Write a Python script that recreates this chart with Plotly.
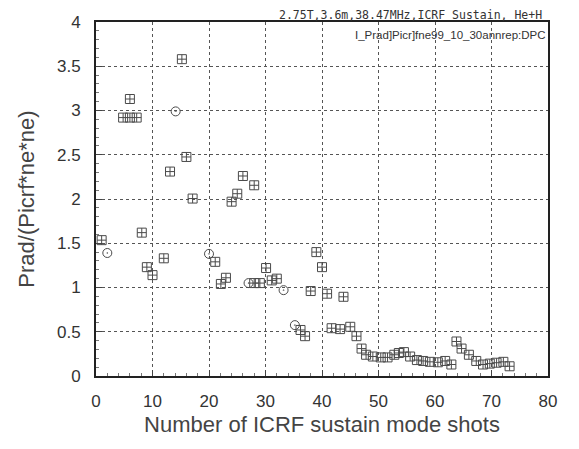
import plotly.graph_objects as go

# shot index and Prad/(Picrf*ne*ne) values, square markers
sq_x = [1.0, 4.8, 6.0, 7.2, 6.0, 8.1, 9.0, 10.0, 12.0, 13.1, 15.2, 16.0, 17.1,
        21.1, 22.1, 23.0, 24.0, 25.0, 26.0, 28.0, 28.0, 29.0, 30.1, 31.1, 32.0,
        36.2, 37.0, 38.0, 39.0, 40.0, 40.9, 41.7, 43.2, 43.8, 45.0, 46.1,
        47.0, 47.8, 49.0, 50.4, 51.6, 52.8, 53.6, 54.5, 55.6, 56.8, 57.9, 59.1,
        60.5, 61.8, 62.9, 63.8, 64.7, 66.0, 67.3, 68.5, 69.7, 70.9, 72.1, 73.2]
sq_y = [1.535, 2.92, 2.92, 2.92, 3.13, 1.62, 1.23, 1.14, 1.33, 2.31, 3.58, 2.475, 2.005,
        1.29, 1.04, 1.11, 1.97, 2.06, 2.26, 2.155, 1.05, 1.05, 1.22, 1.08, 1.10,
        0.52, 0.45, 0.96, 1.40, 1.23, 0.93, 0.54, 0.53, 0.895, 0.556, 0.45,
        0.31, 0.24, 0.22, 0.21, 0.21, 0.24, 0.26, 0.27, 0.22, 0.18, 0.17, 0.16,
        0.155, 0.17, 0.13, 0.39, 0.31, 0.24, 0.17, 0.13, 0.14, 0.15, 0.16, 0.11]
# circle markers
ci_x = [2.0, 14.1, 20.0, 27.0, 33.2, 35.2]
ci_y = [1.39, 2.99, 1.38, 1.05, 0.97, 0.575]

x_range = [0, 80]
x_step = 10
y_range = [0, 4]
y_step = 0.5

mc = "#4a4a4a"
fig = go.Figure()
fig.add_trace(go.Scatter(x=sq_x, y=sq_y, mode="markers",
                         marker=dict(symbol="square-cross-open", size=9, color=mc,
                                     line=dict(width=1, color=mc))))
fig.add_trace(go.Scatter(x=ci_x, y=ci_y, mode="markers",
                         marker=dict(symbol="circle-dot", size=9, color="rgba(0,0,0,0)",
                                     line=dict(width=1, color=mc))))

tickfont = dict(family="Liberation Sans, Arial", size=17, color="#333")
titlefont = dict(family="Liberation Sans, Arial", size=22, color="#444")

fig.update_layout(
    width=571, height=441,
    margin=dict(l=88, r=31, t=14, b=73),
    paper_bgcolor="white", plot_bgcolor="white",
    showlegend=False,
    xaxis=dict(range=x_range, tickmode="linear", tick0=0, dtick=x_step,
               showline=True, mirror=True, linecolor="#222", linewidth=2,
               showgrid=True, gridcolor="#555", griddash="dot", gridwidth=1,
               ticks="inside", ticklen=6, tickcolor="#444", automargin=False,
               minor=dict(dtick=2, ticks="inside", ticklen=3, tickcolor="#777"),
               tickfont=tickfont, ticklabelstandoff=9, zeroline=False,
               title=dict(text="Number of ICRF sustain mode shots", font=titlefont, standoff=6)),
    yaxis=dict(range=y_range, tickmode="linear", tick0=0, dtick=y_step,
               showline=True, mirror=True, linecolor="#222", linewidth=2,
               showgrid=True, gridcolor="#555", griddash="dot", gridwidth=1,
               ticks="inside", ticklen=6, tickcolor="#444", automargin=False,
               minor=dict(dtick=0.1, ticks="inside", ticklen=3, tickcolor="#777"),
               tickfont=tickfont, ticklabelstandoff=10, zeroline=False,
               title=dict(text="Prad/(Picrf*ne*ne)", font=titlefont, standoff=16)),
    annotations=[
        dict(text="2.75T,3.6m,38.47MHz,ICRF Sustain, He+H", xref="paper", yref="paper",
             x=0.99, y=1.0, xanchor="right", yanchor="bottom", showarrow=False,
             yshift=-1, borderpad=0,
             font=dict(family="DejaVu Sans Mono", size=11.5, color="#333")),
        dict(text="I_Prad]Picr]fne99_10_30annrep:DPC", xref="paper", yref="paper",
             x=1.0, y=0.985, xanchor="right", yanchor="top", showarrow=False,
             font=dict(family="Liberation Sans, Arial", size=11.5, color="#333")),
    ],
)
fig.write_html("out.html")
